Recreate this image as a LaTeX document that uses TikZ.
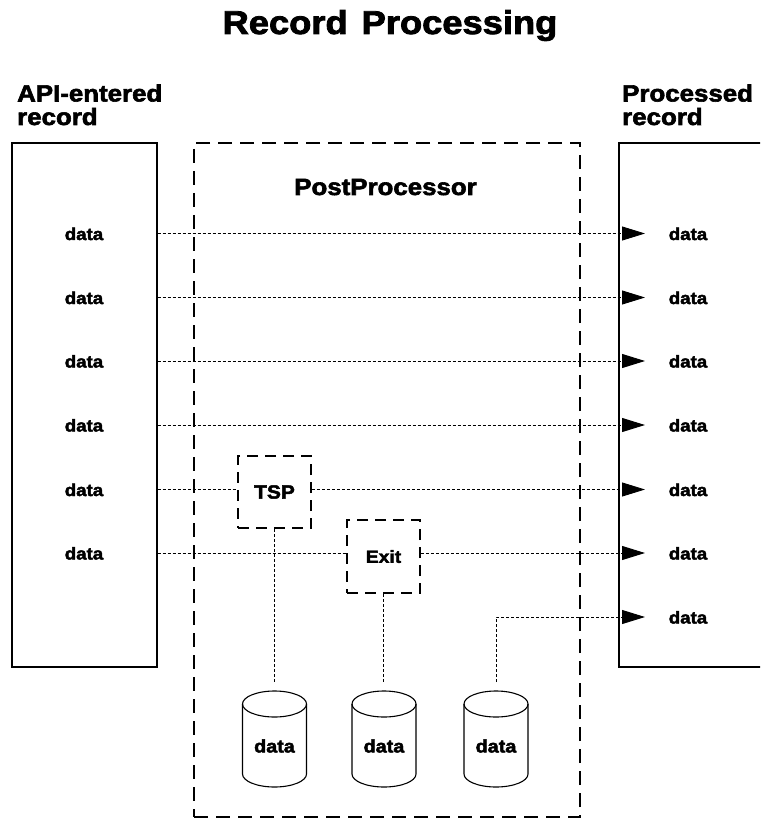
\documentclass[tikz,border=0pt]{standalone}
\usepackage{fontspec}
\newfontfamily\hv[FakeStretch=1.1,FakeBold=2.5]{Liberation Sans Bold}
\usetikzlibrary{arrows.meta}
\begin{document}
\begin{tikzpicture}[x=1pt,y=-1pt,
  lbl/.style={font=\hv\fontsize{17}{20}\selectfont, inner sep=0, anchor=base},
  cyllbl/.style={font=\hv\fontsize{18}{20}\selectfont, inner sep=0},
  flow/.style={line width=0.9pt, dash pattern=on 3pt off 2pt},
  arr/.style={flow, -{Triangle[length=23pt,width=14pt]}},
  bigdash/.style={draw, line width=1.8pt, dash pattern=on 14pt off 8pt},
  smalldash/.style={draw, line width=1.8pt, dash pattern=on 11pt off 7pt, inner sep=0},
  rec/.style={draw, line width=1.1pt, inner sep=0},
  cyl/.style={line width=1.1pt}]
\useasboundingbox (0,0) rectangle (760,818);
\clip (0,0) rectangle (760,818);

% title and headings
\node[font=\hv\fontsize{33}{36}\selectfont, anchor=base, inner sep=0] (title) at (390,34) {Record\hspace{14pt}Processing};
\node[font=\hv\fontsize{23.5}{23.5}\selectfont, align=left, anchor=base west, inner sep=0] (inlbl) at (17,125) {API-entered\\record};
\node[font=\hv\fontsize{23.5}{23.5}\selectfont, align=left, anchor=base west, inner sep=0] (outlbl) at (622,125) {Processed\\record};

% records
\node[rec, minimum width=145pt, minimum height=524pt] (inrec) at (84.5,405) {};
\node[rec, minimum width=181pt, minimum height=524pt] (outrec) at (709.5,405) {};

% postprocessor
\node[bigdash, minimum width=386pt, minimum height=674pt] (post) at (387,480) {};
\node[font=\hv\fontsize{23.5}{26}\selectfont, anchor=base, inner sep=0] (ptitle) at (385.5,195) {PostProcessor};

% row coordinates (arrow tips)
\coordinate (a1) at (645,233.5);
\coordinate (a2) at (645,297.5);
\coordinate (a3) at (645,361);
\coordinate (a4) at (645,425);
\coordinate (a5) at (645,489.5);
\coordinate (a6) at (645,553);
\coordinate (a7) at (645,617);

% left data
\node[lbl] (l1) at (84,240) {data};
\node[lbl] (l2) at (84,304) {data};
\node[lbl] (l3) at (84,367.5) {data};
\node[lbl] (l4) at (84,431.5) {data};
\node[lbl] (l5) at (84,496) {data};
\node[lbl] (l6) at (84,559.5) {data};
% right data
\node[lbl] (r1) at (688,240) {data};
\node[lbl] (r2) at (688,304) {data};
\node[lbl] (r3) at (688,367.5) {data};
\node[lbl] (r4) at (688,431.5) {data};
\node[lbl] (r5) at (688,496) {data};
\node[lbl] (r6) at (688,559.5) {data};
\node[lbl] (r7) at (688,623.5) {data};

% processing boxes
\node[smalldash, minimum width=73pt, minimum height=72pt, font=\hv\fontsize{19}{22}\selectfont] (tsp) at (274.5,492) {TSP};
\node[smalldash, minimum width=73pt, minimum height=73pt, font=\hv\fontsize{17.5}{20}\selectfont] (exit) at (383.5,556.5) {Exit};

% cylinders
\foreach \cx/\nm in {274.5/c1,384/c2,496/c3}{
  \draw[cyl] (\cx-32,704) -- (\cx-32,774) arc[start angle=180,end angle=0,x radius=32,y radius=13] -- (\cx+32,704);
  \draw[cyl] (\cx,704) ellipse[x radius=32,y radius=13];
  \node[cyllbl] (\nm) at (\cx,746) {data};
  \coordinate (\nm-top) at (\cx,682);
}

% connectors
\draw[arr] (inrec.east |- a1) -- (a1);
\draw[arr] (inrec.east |- a2) -- (a2);
\draw[arr] (inrec.east |- a3) -- (a3);
\draw[arr] (inrec.east |- a4) -- (a4);
\draw[flow] (inrec.east |- a5) -- (tsp.west |- a5);
\draw[arr] (tsp.east |- a5) -- (a5);
\draw[flow] (inrec.east |- a6) -- (exit.west |- a6);
\draw[arr] (exit.east |- a6) -- (a6);
\draw[flow] (tsp.south) -- (tsp.south |- c1-top);
\draw[flow] (exit.south) -- (exit.south |- c2-top);
\draw[arr] (c3-top) |- (a7);
\end{tikzpicture}
\end{document}
